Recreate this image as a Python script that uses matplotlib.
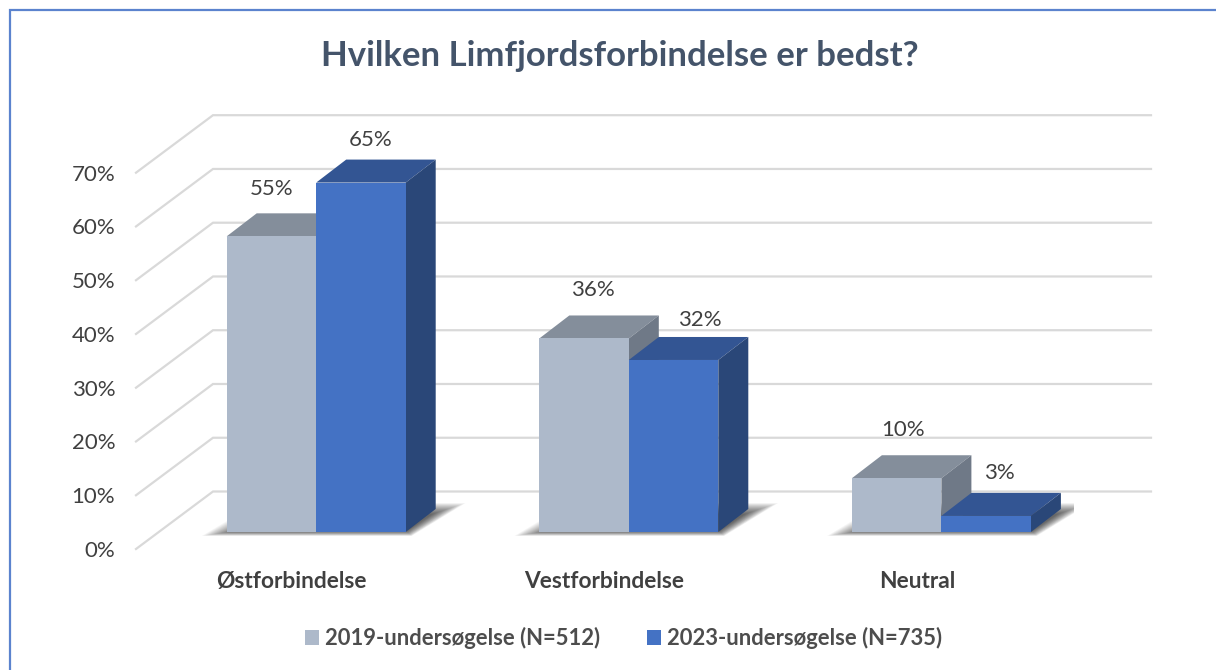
import matplotlib
matplotlib.use("Agg")
import matplotlib.pyplot as plt
from matplotlib.patches import Polygon, Patch
from matplotlib.lines import Line2D

plt.rcParams['font.family'] = ['Lato', 'DejaVu Sans']

# ---- data ----
title = "Hvilken Limfjordsforbindelse er bedst?"
categories = ["Østforbindelse", "Vestforbindelse", "Neutral"]
series_2019 = [55, 36, 10]
series_2023 = [65, 32, 3]
name_2019 = "2019-undersøgelse (N=512)"
name_2023 = "2023-undersøgelse (N=735)"
y_ticks = [0, 10, 20, 30, 40, 50, 60, 70]

# ---- layout (pixels of a 1216x670 figure) ----
W, H = 1216, 670
AX_L, AX_R, AX_TOP, AX_BOT = 136, 1074, 172.7, 549
PX_X = 312.6                     # pixels per category
PX_Y = (AX_BOT - AX_TOP) / 70    # pixels per percent
FIRST_CENTER = 316.2
WALL_D = (77 / PX_X, 57.5 / PX_Y)
BAR_D = (30 / PX_X, 23 / PX_Y)
FLOOR = 17 / PX_Y
BAR_W = 89.5 / PX_X

C19 = dict(front="#ADB9CA", top="#848E9B", side="#6F7987")
C23 = dict(front="#4472C4", top="#335593", side="#2A4778")
GRID = "#D9D9D9"

fig = plt.figure(figsize=(W / 100, H / 100), dpi=100, facecolor="white")
ax = fig.add_axes([AX_L / W, 1 - AX_BOT / H, (AX_R - AX_L) / W, (AX_BOT - AX_TOP) / H])
ax.set_xlim((AX_L - FIRST_CENTER) / PX_X, (AX_R - FIRST_CENTER) / PX_X)
ax.set_ylim(0, 70)
ax.patch.set_alpha(0)
for s in ax.spines.values():
    s.set_visible(False)

# walls / gridlines
x0, x1 = ax.get_xlim()
for t in y_ticks:
    ax.plot([x0, x0 + WALL_D[0], x1 + WALL_D[0]], [t, t + WALL_D[1], t + WALL_D[1]],
            color=GRID, lw=1.6, clip_on=False, zorder=1, solid_joinstyle="miter")

ax.set_yticks(y_ticks, [f"{t}%" for t in y_ticks])
ax.tick_params(axis="y", length=0, pad=15, labelsize=16, labelcolor="#404040")
cat_shift = -24.5 / PX_X
ax.set_xticks([i + cat_shift for i in range(len(categories))], categories)
ax.tick_params(axis="x", length=0, pad=16, labelsize=16.4, labelcolor="#404040")
for lb in ax.get_xticklabels():
    lb.set_fontweight("bold")


def box(x, w, v, c, z):
    y0, y1 = FLOOR, FLOOR + v
    dx, dy = BAR_D
    ax.add_patch(Polygon([(x, y0), (x + w, y0), (x + w, y1), (x, y1)],
                         fc=c["front"], ec="none", zorder=z + 0.2, clip_on=False))
    ax.add_patch(Polygon([(x, y1), (x + w, y1), (x + w + dx, y1 + dy), (x + dx, y1 + dy)],
                         fc=c["top"], ec="none", zorder=z, clip_on=False))
    ax.add_patch(Polygon([(x + w, y0), (x + w + dx, y0 + dy), (x + w + dx, y1 + dy), (x + w, y1)],
                         fc=c["side"], ec="none", zorder=z, clip_on=False))


def shadow(xl, xr):
    # soft floor shadow built from stacked translucent layers
    n = 26
    ux, uy = 1 / PX_X, 1 / PX_Y
    for k in range(n):
        ins = 1.35 * k
        ax.add_patch(Polygon([
            (xl + (-25 + ins) * ux, FLOOR + (-4 + k * 0.2) * uy),
            (xr + (6 - k * 0.2) * ux, FLOOR + (-4 + k * 0.2) * uy),
            (xr + (60 - ins) * ux, FLOOR + (29 - k * 0.45) * uy),
            (xl + (30 + ins) * ux, FLOOR + (29 - k * 0.45) * uy),
        ], fc="black", ec="none", alpha=0.032, zorder=2))


label_offsets_19 = [(0, 49), (8.5, 50), (6, 50)]
label_offsets_23 = [(10, 44), (26, 41), (13, 44)]
for i in range(len(categories)):
    left = i - BAR_W
    shadow(left, i + BAR_W)
    box(left, BAR_W, series_2019[i], C19, 3)
    box(i, BAR_W, series_2023[i], C23, 4)
    for v, xc, off in ((series_2019[i], left + BAR_W / 2, label_offsets_19[i]),
                       (series_2023[i], i + BAR_W / 2, label_offsets_23[i])):
        ax.annotate(f"{v}%", (xc, FLOOR + v), xytext=(off[0] * 0.72, (off[1] - 1.5) * 0.72),
                    textcoords="offset points", ha="center", va="center",
                    fontsize=16, color="#404040", zorder=6)

fig.text(620 / W, 1 - 56 / H, title, ha="center", va="center",
         fontsize=25, fontweight="bold", color="#44546A")

handles = [Patch(fc=C19["front"], ec="none", label=name_2019),
           Patch(fc=C23["front"], ec="none", label=name_2023)]
fig.legend(handles=handles, loc="center", bbox_to_anchor=(623.5 / W, 1 - 638 / H), ncol=2,
           frameon=False, prop=dict(family="Lato", size=15.8, weight="bold"), labelcolor="#4d4d4d",
           handlelength=0.64, handleheight=0.64, handletextpad=0.28, columnspacing=2.15,
           borderpad=0, borderaxespad=0)

# outer frame: only its top and left edges fall inside the crop
fig.add_artist(Line2D([9.5 / W, 9.5 / W, 1], [0, 1 - 10 / H, 1 - 10 / H],
                      color="#5B83CE", lw=1.6, solid_joinstyle="miter"))

fig.savefig("out.png", dpi=100)
